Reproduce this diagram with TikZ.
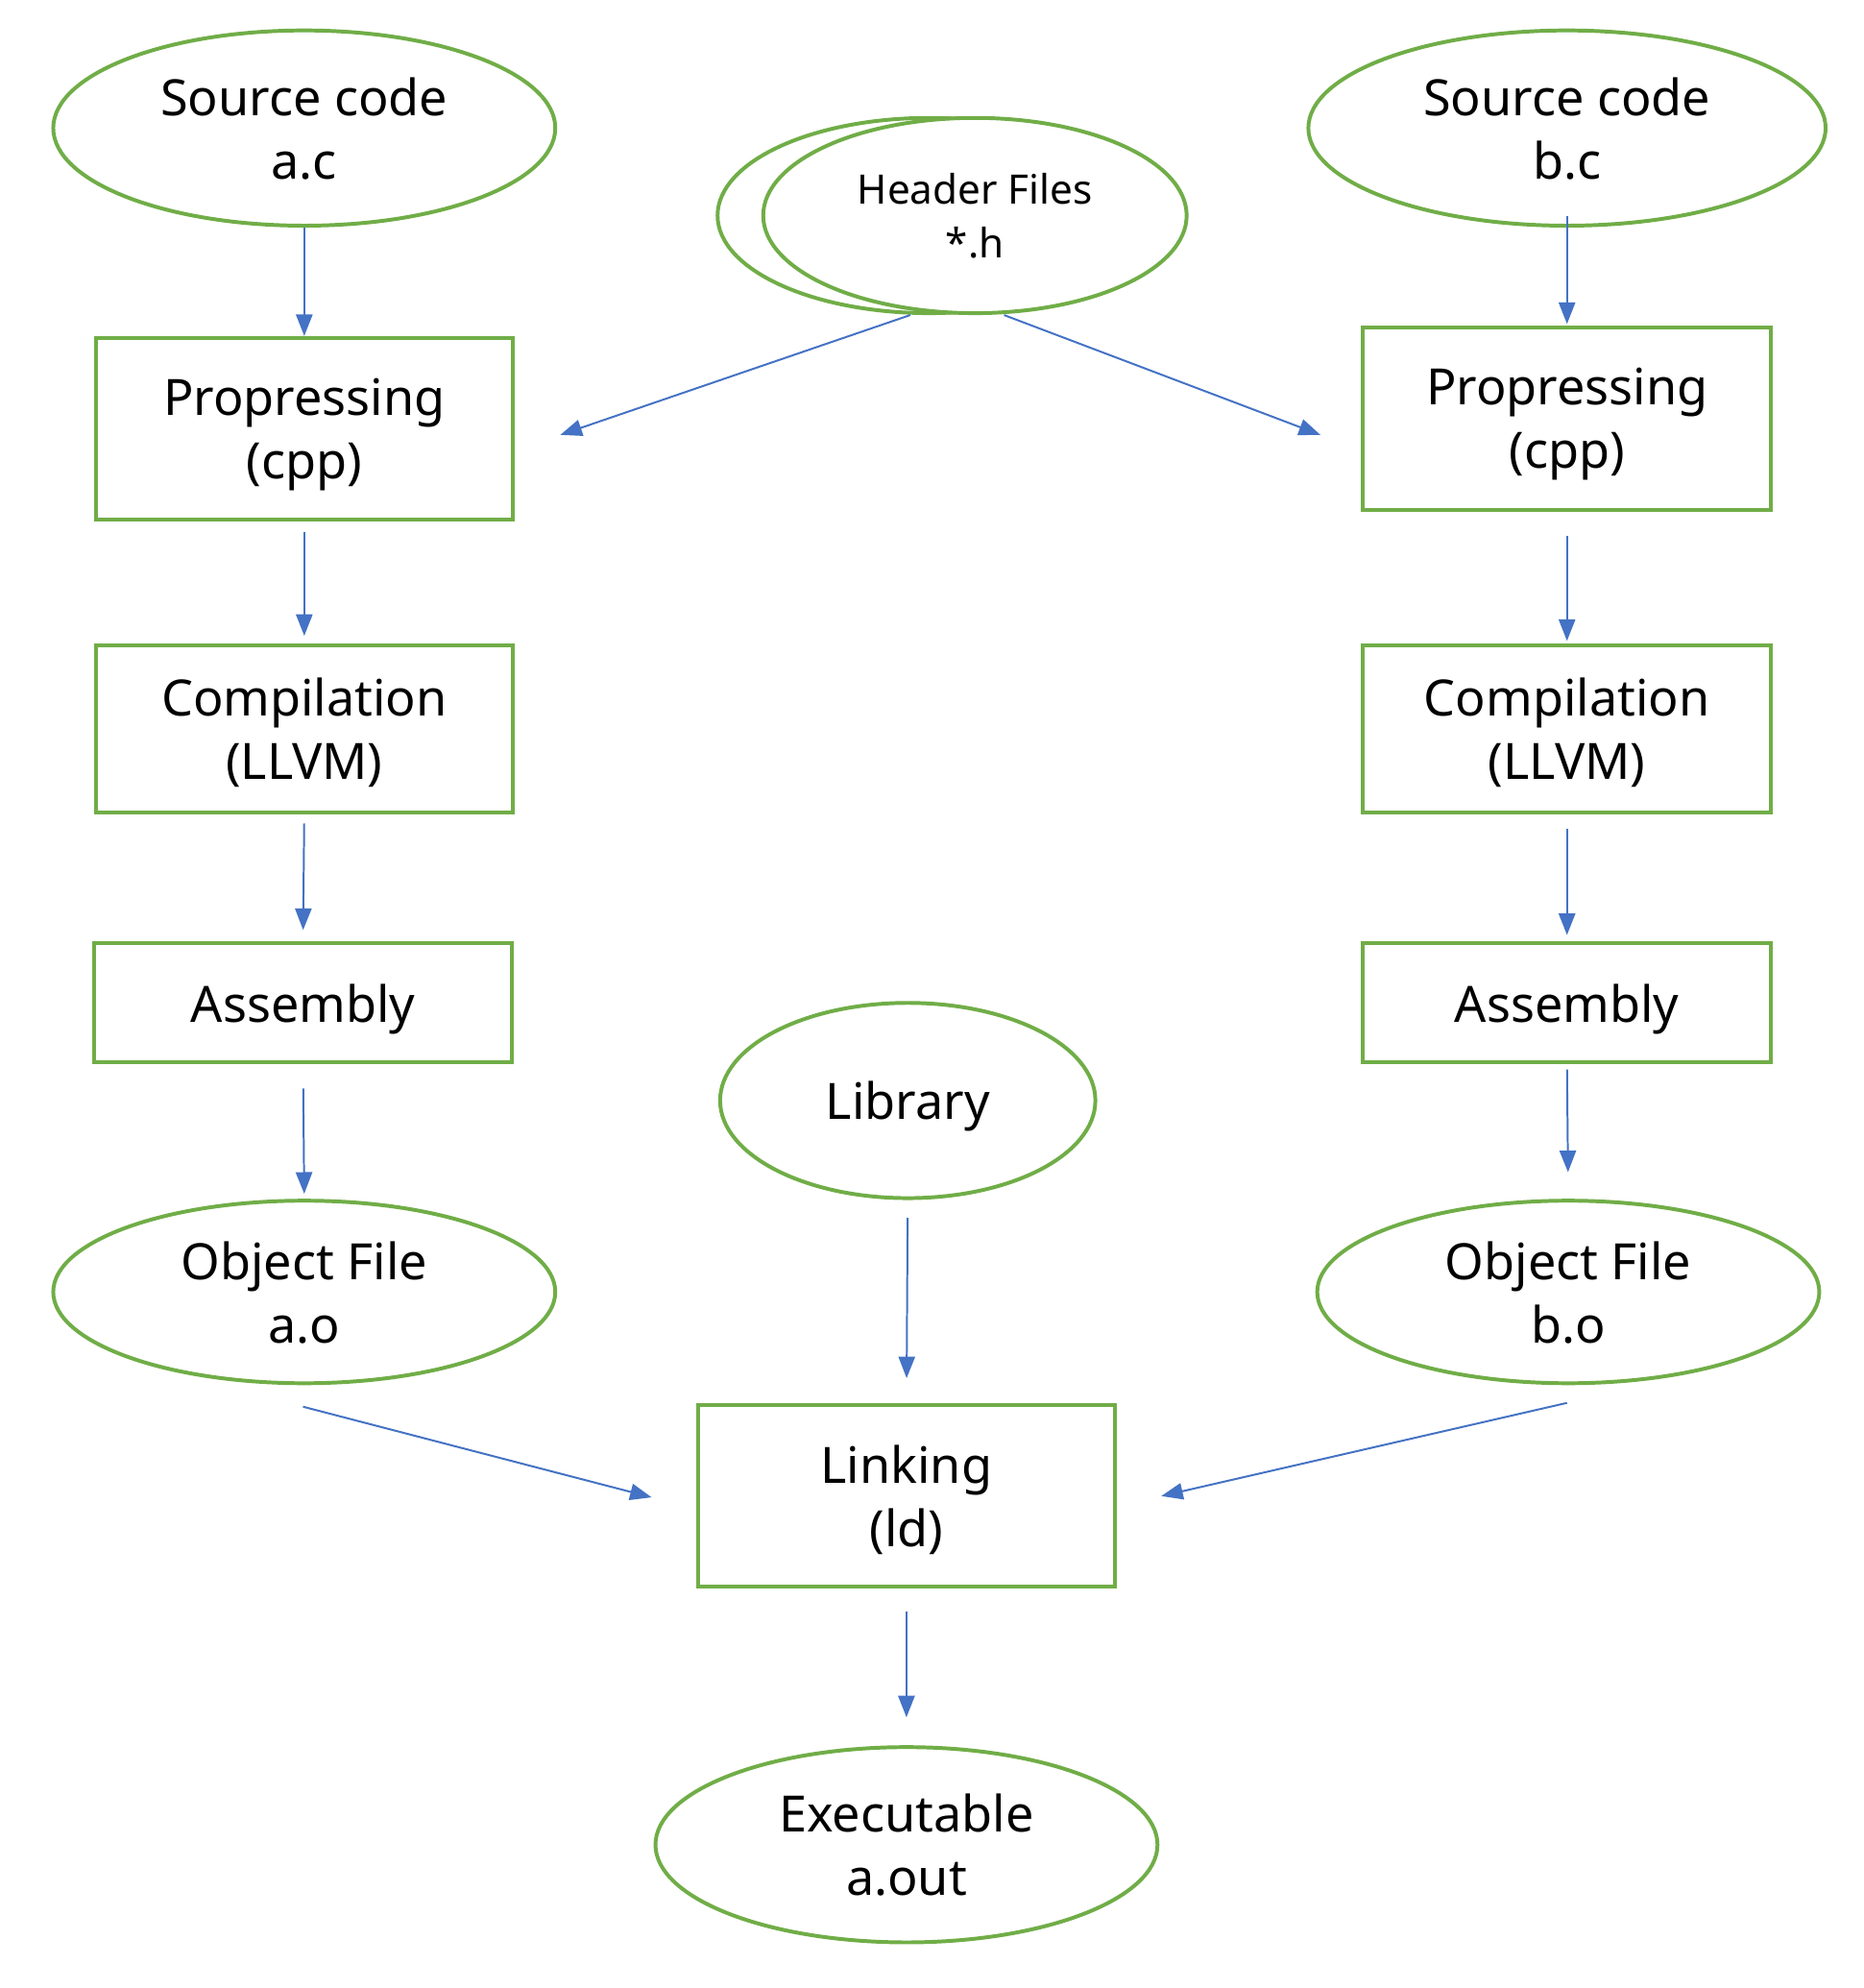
\documentclass[tikz,border=0pt]{standalone}
\usepackage{fontspec}
\setmainfont{Noto Sans}
\usetikzlibrary{shapes.geometric,arrows.meta,calc}
\definecolor{grn}{HTML}{70AD47}
\definecolor{blu}{HTML}{4472C4}
\tikzset{
  ell/.style={ellipse,draw=grn,line width=3pt,fill=white,inner sep=0pt,align=center,text depth=0pt,font=\fontsize{39.5}{50}\selectfont},
  stepbox/.style={rectangle,draw=grn,line width=3pt,fill=white,inner sep=0pt,align=center,text depth=0pt,font=\fontsize{39.5}{50}\selectfont},
  arr/.style={draw=blu,line width=1.5pt,-{Triangle[length=17pt,width=13pt]}}
}
\begin{document}
\begin{tikzpicture}[x=1pt,y=-1pt]
\useasboundingbox (0,0) rectangle (1470,1568);
% left column
\node[ell,minimum width=396pt,minimum height=154pt] (sa) at (240,101) {Source code\\a.c};
\node[stepbox,minimum width=329pt,minimum height=143pt] (pa) at (240,338) {Propressing\\(cpp)};
\node[stepbox,minimum width=329pt,minimum height=132pt] (ca) at (240,575) {Compilation\\(LLVM)};
\node[stepbox,minimum width=330pt,minimum height=94pt] (aa) at (239,791) {Assembly};
\node[ell,minimum width=396pt,minimum height=144pt] (oa) at (240,1019) {Object File\\a.o};
% right column
\node[ell,minimum width=408pt,minimum height=154pt] (sb) at (1236,101) {Source code\\b.c};
\node[stepbox,minimum width=322pt,minimum height=144pt] (pb) at (1236,330) {Propressing\\(cpp)};
\node[stepbox,minimum width=322pt,minimum height=132pt] (cb) at (1236,575) {Compilation\\(LLVM)};
\node[stepbox,minimum width=322pt,minimum height=94pt] (ab) at (1236,791) {Assembly};
\node[ell,minimum width=396pt,minimum height=144pt] (ob) at (1237,1019) {Object File\\b.o};
% middle
\node[ell,minimum width=334pt,minimum height=154pt] (hb) at (733,170) {};
\node[ell,minimum width=334pt,minimum height=154pt,font=\fontsize{32}{43}\selectfont] (hf) at (769,170) {Header Files\\*.h};
\node[ell,minimum width=296pt,minimum height=154pt] (lib) at (716,868) {Library};
\node[stepbox,minimum width=329pt,minimum height=143pt] (lk) at (715,1180) {Linking\\(ld)};
\node[ell,minimum width=396pt,minimum height=154pt] (ex) at (715,1455) {Executable\\a.out};
% arrows left
\draw[arr] (sa.south) -- (pa.north);
\draw[arr,shorten <=9pt,shorten >=6pt] (pa.south) -- (ca.north);
\draw[arr,shorten <=7pt,shorten >=9pt] (ca.south) -- (aa.north);
\draw[arr,shorten <=19pt,shorten >=4pt] (aa.south) -- (oa.north);
% arrows right
\draw[arr,shorten <=-9pt,shorten >=1pt] (sb.south) -- (pb.north);
\draw[arr,shorten <=19pt,shorten >=2pt] (pb.south) -- (cb.north);
\draw[arr,shorten <=11pt,shorten >=5pt] (cb.south) -- (ab.north);
\draw[arr,shorten <=4pt,shorten >=21pt] (ab.south) -- (ob.north);
% header arrows
\draw[arr] ($(hb.south)+(-15,0)$) -- ($(pa.east)+(36,5)$);
\draw[arr] ($(hf.south)+(23,0)$) -- ($(pb.west)+(-32,13)$);
% linking
\draw[arr,shorten <=14pt,shorten >=20pt] (lib.south) -- (lk.north);
\draw[arr] ($(oa.south)+(-1,17)$) -- ($(lk.west)+(-35,1)$);
\draw[arr] ($(ob.south)+(-1,14)$) -- ($(lk.east)+(35,0)$);
\draw[arr,shorten <=18pt,shorten >=22pt] (lk.south) -- (ex.north);
\end{tikzpicture}
\end{document}
